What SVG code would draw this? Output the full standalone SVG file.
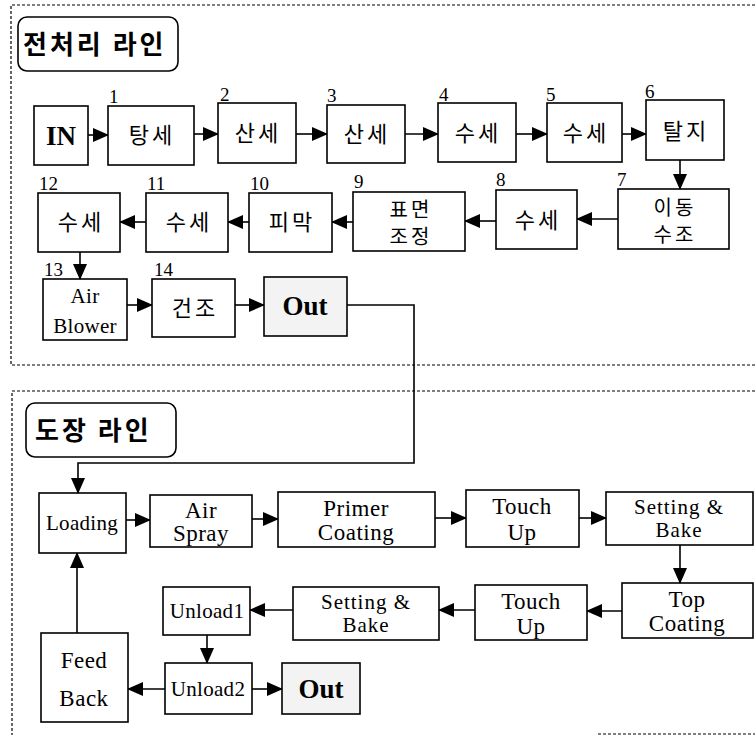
<svg xmlns="http://www.w3.org/2000/svg" width="755" height="737" viewBox="0 0 755 737">
<defs>
<marker id="ah" markerUnits="userSpaceOnUse" markerWidth="16" markerHeight="14" refX="15" refY="7" orient="auto">
<path d="M0,0 L16,7 L0,14 Z" fill="#000"/>
</marker>
</defs>
<style>
.b{fill:#fff;stroke:#000;stroke-width:1.6}
.o{fill:#f3f3f3;stroke:#000;stroke-width:1.6}
.t{fill:#fff;stroke:#000;stroke-width:1.6}
.ko{font-family:"Noto Sans CJK KR","Noto Sans",sans-serif;font-size:22px;letter-spacing:3px;text-anchor:middle;fill:#000}
.k2{font-family:"Noto Sans CJK KR","Noto Sans",sans-serif;font-size:20px;letter-spacing:3px;text-anchor:middle;fill:#000}
.kt{font-family:"Noto Sans CJK KR","Noto Sans",sans-serif;font-size:26px;font-weight:bold;letter-spacing:3px;fill:#000}
.en{font-family:"Liberation Serif",serif;font-size:23px;letter-spacing:0.5px;text-anchor:middle;fill:#000}
.sm{font-family:"Liberation Serif",serif;font-size:21px;letter-spacing:0.3px;text-anchor:middle;fill:#000}
.sb{font-family:"Liberation Serif",serif;font-size:21px;letter-spacing:1px;text-anchor:middle;fill:#000}
.bd{font-family:"Liberation Serif",serif;font-size:27px;font-weight:bold;text-anchor:middle;fill:#000}
.n{font-family:"Liberation Serif",serif;font-size:19px;fill:#000}
.c{fill:none;stroke:#000;stroke-width:1.6}
.d{fill:none;stroke:#000;stroke-width:1.2;stroke-dasharray:3,2}
</style>
<rect width="755" height="737" fill="#fff"/>
<g id="frames">
<path class="d" d="M755,5 H11 V365 H755"/>
<path class="d" d="M755,391 H12 V735"/>
<path class="d" d="M598,734 H755"/>
</g>
<g id="title1"><rect class="t" x="18" y="17" width="160" height="54" rx="9"/><text class="kt" x="23" y="54">전처리 라인</text></g>
<g id="title2"><rect class="t" x="26" y="403" width="150" height="54" rx="9"/><text class="kt" x="35" y="440">도장 라인</text></g>

<g id="connectors">
<line class="c" x1="88" y1="135" x2="108" y2="135" marker-end="url(#ah)"/>
<line class="c" x1="194" y1="134" x2="218" y2="134" marker-end="url(#ah)"/>
<line class="c" x1="296" y1="134" x2="327" y2="134" marker-end="url(#ah)"/>
<line class="c" x1="405" y1="134" x2="438" y2="134" marker-end="url(#ah)"/>
<line class="c" x1="516" y1="134" x2="547" y2="134" marker-end="url(#ah)"/>
<line class="c" x1="622" y1="134" x2="646" y2="134" marker-end="url(#ah)"/>
<line class="c" x1="680" y1="160" x2="680" y2="189" marker-end="url(#ah)"/>
<line class="c" x1="618" y1="219" x2="577" y2="219" marker-end="url(#ah)"/>
<line class="c" x1="496" y1="221" x2="465" y2="221" marker-end="url(#ah)"/>
<line class="c" x1="353" y1="222" x2="332" y2="222" marker-end="url(#ah)"/>
<line class="c" x1="249" y1="222" x2="228" y2="222" marker-end="url(#ah)"/>
<line class="c" x1="146" y1="222" x2="120" y2="222" marker-end="url(#ah)"/>
<line class="c" x1="80" y1="252" x2="80" y2="279" marker-end="url(#ah)"/>
<line class="c" x1="127" y1="305" x2="152" y2="305" marker-end="url(#ah)"/>
<line class="c" x1="235" y1="305" x2="264" y2="305" marker-end="url(#ah)"/>
<path class="c" d="M347,305 H414 V463 H78 V493" marker-end="url(#ah)"/>
<line class="c" x1="126" y1="520" x2="150" y2="520" marker-end="url(#ah)"/>
<line class="c" x1="252" y1="519" x2="278" y2="519" marker-end="url(#ah)"/>
<line class="c" x1="435" y1="518" x2="466" y2="518" marker-end="url(#ah)"/>
<line class="c" x1="579" y1="518" x2="606" y2="518" marker-end="url(#ah)"/>
<line class="c" x1="680" y1="545" x2="680" y2="583" marker-end="url(#ah)"/>
<line class="c" x1="622" y1="611" x2="587" y2="611" marker-end="url(#ah)"/>
<line class="c" x1="475" y1="610" x2="439" y2="610" marker-end="url(#ah)"/>
<line class="c" x1="293" y1="610" x2="250" y2="610" marker-end="url(#ah)"/>
<line class="c" x1="207" y1="635" x2="207" y2="663" marker-end="url(#ah)"/>
<line class="c" x1="165" y1="689" x2="128" y2="689" marker-end="url(#ah)"/>
<line class="c" x1="252" y1="689" x2="282" y2="689" marker-end="url(#ah)"/>
<line class="c" x1="77" y1="633" x2="77" y2="553" marker-end="url(#ah)"/>
</g>

<g id="n-in"><rect class="b" x="34" y="106" width="54" height="59"/><text class="bd" x="61" y="145">IN</text></g>
<g id="n1"><rect class="b" x="108" y="106" width="86" height="59"/><text class="ko" x="152" y="143">탕세</text><text class="n" x="109" y="103">1</text></g>
<g id="n2"><rect class="b" x="218" y="103" width="78" height="60"/><text class="ko" x="258" y="141">산세</text><text class="n" x="220" y="101">2</text></g>
<g id="n3"><rect class="b" x="327" y="105" width="78" height="58"/><text class="ko" x="367" y="142">산세</text><text class="n" x="327" y="102">3</text></g>
<g id="n4"><rect class="b" x="438" y="103" width="78" height="59"/><text class="ko" x="478" y="141">수세</text><text class="n" x="439" y="101">4</text></g>
<g id="n5"><rect class="b" x="547" y="103" width="75" height="59"/><text class="ko" x="586" y="141">수세</text><text class="n" x="546" y="101">5</text></g>
<g id="n6"><rect class="b" x="646" y="100" width="78" height="60"/><text class="ko" x="686" y="139">탈지</text><text class="n" x="645" y="98">6</text></g>
<g id="n7"><rect class="b" x="618" y="189" width="111" height="60"/><text class="k2" x="675" y="215">이동</text><text class="k2" x="675" y="242">수조</text><text class="n" x="617" y="186">7</text></g>
<g id="n8"><rect class="b" x="496" y="190" width="81" height="59"/><text class="ko" x="538" y="228">수세</text><text class="n" x="496" y="186">8</text></g>
<g id="n9"><rect class="b" x="353" y="192" width="112" height="59"/><text class="k2" x="411" y="217">표면</text><text class="k2" x="411" y="244">조정</text><text class="n" x="354" y="188">9</text></g>
<g id="n10"><rect class="b" x="249" y="193" width="83" height="59"/><text class="ko" x="292" y="230">피막</text><text class="n" x="250" y="190">10</text></g>
<g id="n11"><rect class="b" x="146" y="193" width="82" height="59"/><text class="ko" x="189" y="230">수세</text><text class="n" x="147" y="190">11</text></g>
<g id="n12"><rect class="b" x="38" y="193" width="82" height="59"/><text class="ko" x="81" y="230">수세</text><text class="n" x="39" y="190">12</text></g>
<g id="n13"><rect class="b" x="43" y="279" width="84" height="61"/><text class="sm" x="85" y="303">Air</text><text class="sm" x="85" y="333">Blower</text><text class="n" x="44" y="276">13</text></g>
<g id="n14"><rect class="b" x="152" y="279" width="83" height="58"/><text class="ko" x="195" y="316">건조</text><text class="n" x="154" y="276">14</text></g>
<g id="n-out1"><rect class="o" x="264" y="277" width="83" height="59"/><text class="bd" x="305" y="315">Out</text></g>

<g id="n-loading"><rect class="b" x="39" y="493" width="87" height="60"/><text class="sm" x="82" y="530">Loading</text></g>
<g id="n-airspray"><rect class="b" x="150" y="495" width="102" height="52"/><text class="en" x="201" y="518">Air</text><text class="en" x="201" y="541">Spray</text></g>
<g id="n-primer"><rect class="b" x="278" y="492" width="157" height="55"/><text class="en" x="356" y="516">Primer</text><text class="en" x="356" y="540">Coating</text></g>
<g id="n-touch1"><rect class="b" x="466" y="490" width="113" height="57"/><text class="en" x="522" y="514">Touch</text><text class="en" x="522" y="540">Up</text></g>
<g id="n-setbake1"><rect class="b" x="606" y="492" width="147" height="53"/><text class="sb" x="679" y="514">Setting  &amp;</text><text class="sb" x="679" y="537">Bake</text></g>
<g id="n-top"><rect class="b" x="622" y="583" width="131" height="55"/><text class="en" x="687" y="607">Top</text><text class="en" x="687" y="631">Coating</text></g>
<g id="n-touch2"><rect class="b" x="475" y="585" width="112" height="55"/><text class="en" x="531" y="609">Touch</text><text class="en" x="531" y="634">Up</text></g>
<g id="n-setbake2"><rect class="b" x="293" y="587" width="146" height="53"/><text class="sb" x="366" y="609">Setting  &amp;</text><text class="sb" x="366" y="632">Bake</text></g>
<g id="n-unload1"><rect class="b" x="163" y="587" width="87" height="48"/><text class="sm" x="207" y="618">Unload1</text></g>
<g id="n-unload2"><rect class="b" x="165" y="663" width="87" height="51"/><text class="sm" x="208" y="696">Unload2</text></g>
<g id="n-out2"><rect class="o" x="282" y="663" width="78" height="51"/><text class="bd" x="321" y="698">Out</text></g>
<g id="n-feedback"><rect class="b" x="41" y="633" width="87" height="89"/><text class="en" x="84" y="668">Feed</text><text class="en" x="84" y="706">Back</text></g>
</svg>
